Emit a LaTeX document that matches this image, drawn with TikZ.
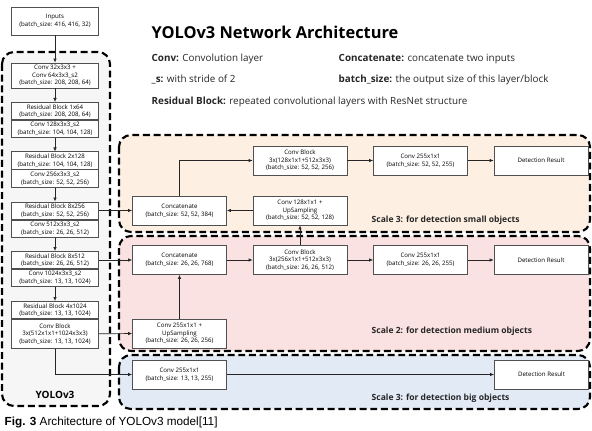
\documentclass[tikz,border=0pt]{standalone}
\usepackage{fontspec}
\setmainfont{Open Sans}
\newfontfamily\capfont{Liberation Sans}
\usetikzlibrary{arrows.meta,positioning}

\definecolor{smallbg}{HTML}{FDF0E3}
\definecolor{medbg}{HTML}{F9E2E1}
\definecolor{bigbg}{HTML}{E2EAF6}
\definecolor{backbg}{HTML}{F6F6F6}
\definecolor{boxline}{HTML}{505050}

\begin{document}
\begin{tikzpicture}[x=0.75pt, y=-0.75pt, >={Latex[length=3pt,width=2.6pt]},
    blk/.style={draw=boxline, fill=white, line width=0.5pt, align=center, inner sep=1pt,
                font=\fontsize{4.6}{5.7}\selectfont},
    lblk/.style={blk, minimum width=65.25pt},
    half/.style={lblk, minimum height=13pt},
    rblk/.style={blk, minimum width=70.5pt, minimum height=21.75pt},
    region/.style={draw, line width=1.6pt, dash pattern=on 5.2pt off 2.8pt, rounded corners=9pt},
    conn/.style={->, line width=0.5pt, draw=black!85},
    scalelbl/.style={anchor=west, font=\fontsize{6.4}{8}\selectfont\bfseries, text=black!85},
    legend/.style={anchor=west, font=\fontsize{7.4}{8.5}\selectfont, text=black!85}]
  \useasboundingbox (0,0) rectangle (592,431);
  % backgrounds
  \draw[region, fill=backbg] (2,52) rectangle (110,406);
  \draw[region, fill=smallbg] (119,135) rectangle (590,232);
  \draw[region, fill=medbg] (119,236) rectangle (590,351);
  \draw[region, fill=bigbg] (119,355) rectangle (590,409);

  % title and legend
  \node[anchor=west, font=\fontsize{12.3}{14}\selectfont\bfseries] (title) at (147,32) {YOLOv3 Network Architecture};
  \node[legend] (lconv) at (147,59) {\textbf{Conv:} Convolution layer};
  \node[legend] (lcat) at (334,59) {\textbf{Concatenate:} concatenate two inputs};
  \node[legend] (ls) at (147,80) {\textbf{\_s:} with stride of 2};
  \node[legend] (lbs) at (334,80) {\textbf{batch\_size:} the output size of this layer/block};
  \node[legend] (lres) at (147,102) {\textbf{Residual Block:} repeated convolutional layers with ResNet structure};

  % backbone
  \node[lblk, minimum height=21pt] (inp) at (55,21) {Inputs\\(batch\_size: 416, 416, 32)};
  \node[lblk, minimum height=18.75pt] (c1) at (55,75.5) {Conv 32x3x3 +\\Conv 64x3x3\_s2\\(batch\_size: 208, 208, 64)};
  \node[half] (r1) at (55,111) {Residual Block 1x64\\(batch\_size: 208, 208, 64)};
  \node[half, below=0pt of r1] (c2) {Conv 128x3x3\_s2\\(batch\_size: 104, 104, 128)};
  \node[half] (r2) at (55,160.5) {Residual Block 2x128\\(batch\_size: 104, 104, 128)};
  \node[half, below=0pt of r2] (c3) {Conv 256x3x3\_s2\\(batch\_size: 52, 52, 256)};
  \node[half] (r3) at (55,210.5) {Residual Block 8x256\\(batch\_size: 52, 52, 256)};
  \node[half, below=0pt of r3] (c4) {Conv 512x3x3\_s2\\(batch\_size: 26, 26, 512)};
  \node[half] (r4) at (55,260) {Residual Block 8x512\\(batch\_size: 26, 26, 512)};
  \node[half, below=0pt of r4] (c5) {Conv 1024x3x3\_s2\\(batch\_size: 13, 13, 1024)};
  \node[half] (r5) at (55,310) {Residual Block 4x1024\\(batch\_size: 13, 13, 1024)};
  \node[lblk, minimum height=21.75pt, below=0pt of r5] (cb) {Conv Block\\3x(512x1x1+1024x3x3)\\(batch\_size: 13, 13, 1024)};
  \node[font=\fontsize{7.5}{9}\selectfont\bfseries] (yolo) at (55,395) {YOLOv3};
  \draw[conn] (inp) -- (c1);
  \draw[conn] (c1) -- (r1);
  \draw[conn] (c2) -- (r2);
  \draw[conn] (c3) -- (r3);
  \draw[conn] (c4) -- (r4);
  \draw[conn] (c5) -- (r5);

  % scale 3, 52x52
  \node[rblk] (cat3) at (179.5,210.5) {Concatenate\\(batch\_size: 52, 52, 384)};
  \node[rblk] (up3) at (300,210.5) {Conv 128x1x1 +\\UpSampling\\(batch\_size: 52, 52, 128)};
  \node[rblk] (cb3) at (300,160.5) {Conv Block\\3x(128x1x1+512x3x3)\\(batch\_size: 52, 52, 256)};
  \node[rblk] (out3) at (420.5,160.5) {Conv 255x1x1\\(batch\_size: 52, 52, 255)};
  \node[rblk] (det3) at (541,160.5) {Detection Result};
  \node[scalelbl] (lbl3) at (367,220) {Scale 3: for detection small objects};

  % scale 2, 26x26
  \node[rblk] (cat2) at (179.5,260) {Concatenate\\(batch\_size: 26, 26, 768)};
  \node[rblk] (cb2) at (300,260) {Conv Block\\3x(256x1x1+512x3x3)\\(batch\_size: 26, 26, 512)};
  \node[rblk] (out2) at (420.5,260) {Conv 255x1x1\\(batch\_size: 26, 26, 255)};
  \node[rblk] (det2) at (541,260) {Detection Result};
  \node[rblk] (up2) at (179.5,333.5) {Conv 255x1x1 +\\UpSampling\\(batch\_size: 26, 26, 256)};
  \node[scalelbl] (lbl2) at (367,331) {Scale 2: for detection medium objects};

  % scale 1, 13x13
  \node[rblk] (out1) at (179.5,374.5) {Conv 255x1x1\\(batch\_size: 13, 13, 255)};
  \node[rblk] (det1) at (541.5,374.5) {Detection Result};
  \node[scalelbl] (lbl1) at (367,398) {Scale 3: for detection big objects};

  % connections
  \draw[conn] (r3.east) -- (cat3.west);
  \draw[conn] (up3) -- (cat3);
  \draw[conn] (cat3.north) |- (cb3.west);
  \draw[conn] (cb3) -- (out3);
  \draw[conn] (out3) -- (det3);
  \draw[conn] (r4.east) -- (cat2.west);
  \draw[conn] (cat2) -- (cb2);
  \draw[conn] (cb2) -- (up3);
  \draw[conn] (cb2) -- (out2);
  \draw[conn] (out2) -- (det2);
  \draw[conn] (cb.east) -- (up2.west);
  \draw[conn] (up2) -- (cat2);
  \draw[conn] (cb.south) |- (out1.west);
  \draw[conn] (out1) -- (det1);

  % caption
  \node[anchor=west, font=\capfont\fontsize{8.8}{10}\selectfont] (cap) at (0,422) {\textbf{Fig. 3} Architecture of YOLOv3 model[11]};
\end{tikzpicture}
\end{document}
